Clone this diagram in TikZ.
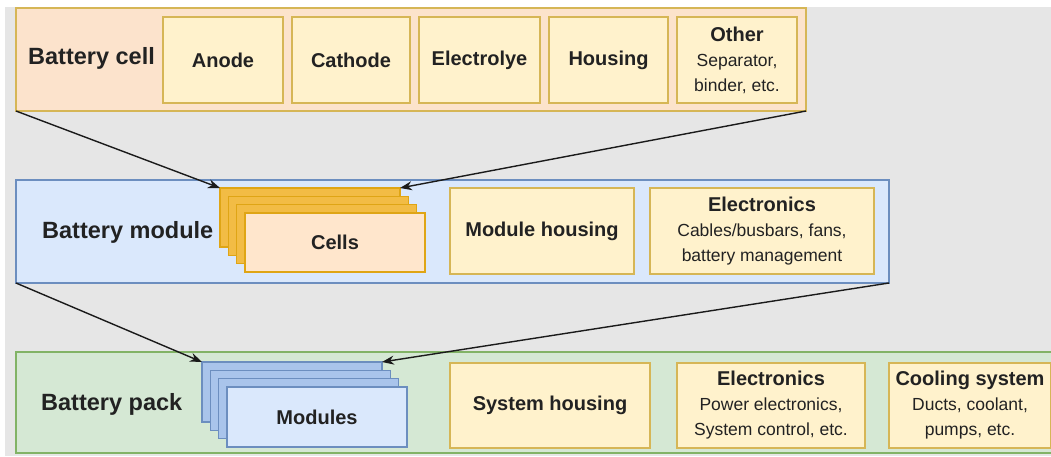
\documentclass[tikz,border=0pt]{standalone}
\usepackage{fontspec}
\setmainfont{Liberation Sans}
\usetikzlibrary{arrows.meta}
\definecolor{bggray}{HTML}{E6E6E6}
\definecolor{cellfill}{HTML}{FCE3CC}
\definecolor{golddraw}{HTML}{D6B656}
\definecolor{itemfill}{HTML}{FFF2CC}
\definecolor{modfill}{HTML}{DAE8FC}
\definecolor{moddraw}{HTML}{6C8EBF}
\definecolor{packfill}{HTML}{D5E8D4}
\definecolor{packdraw}{HTML}{82B366}
\definecolor{celllayer}{HTML}{F2BC45}
\definecolor{celldraw}{HTML}{D79B00}
\definecolor{frontcell}{HTML}{FFE6CC}
\definecolor{modlayer}{HTML}{A9C4EB}
\definecolor{txt}{HTML}{222222}
\definecolor{arr}{HTML}{1A1A1A}
\begin{document}
\begin{tikzpicture}[x=1pt,y=-1pt,
  box/.style={rectangle, anchor=north west, inner sep=0pt, outer sep=0pt, line width=1.2pt, text=txt, align=center},
  container/.style={box},
  item/.style={box, fill=itemfill, draw=golddraw, font=\fontsize{17.5}{25}\selectfont},
  celllay/.style={box, fill=celllayer, draw=celldraw!70!celllayer, minimum width=180pt, minimum height=59pt},
  modlay/.style={box, fill=modlayer, draw=moddraw, minimum width=180pt, minimum height=60pt},
  lvl/.style={anchor=west, inner sep=0pt, text=txt, font=\fontsize{23.5}{28}\selectfont\bfseries},
  conn/.style={draw=arr, line width=1.4pt, -{Stealth[length=12pt,width=9pt]}}
]
\useasboundingbox (0,0) rectangle (1051,456);
\clip (0,0) rectangle (1051,456);
\fill[bggray] (5,7) rectangle (1051,456);

% containers
\node[container, fill=cellfill, draw=golddraw, minimum width=790pt, minimum height=103pt] (cell) at (16,8) {};
\node[container, fill=modfill, draw=moddraw, minimum width=873pt, minimum height=103pt] (module) at (16,180) {};
\node[container, fill=packfill, draw=packdraw, minimum width=1045pt, minimum height=101pt] (pack) at (16,352) {};

% level labels
\node[lvl] (lcell) at (28,58) {Battery cell};
\node[lvl] (lmod) at (42,232) {Battery module};
\node[lvl] (lpack) at (41,404) {Battery pack};

% battery cell items
\newcommand{\ttl}[1]{{\fontsize{20}{25}\selectfont\bfseries #1}}
\node[item, minimum width=120pt, minimum height=86pt] (anode) at (163,17) {\ttl{Anode}};
\node[item, minimum width=118pt, minimum height=86pt] (cathode) at (292,17) {\ttl{Cathode}};
\node[item, minimum width=121pt, minimum height=86pt] (electrolyte) at (419,17) {\ttl{Electrolye}};
\node[item, minimum width=119pt, minimum height=86pt] (housing) at (549,17) {\ttl{Housing}};
\node[item, minimum width=120pt, minimum height=86pt] (other) at (677,17) {\ttl{Other}\\Separator,\\binder, etc.};

% cells stack
\node[celllay] (cl0) at (220,188) {};
\node[celllay] (cl1) at (228.3,196.3) {};
\node[celllay] (cl2) at (236.6,204.6) {};
\node[box, fill=frontcell, draw=celldraw!70!celllayer, minimum width=180pt, minimum height=59pt] (cells) at (245,213) {\ttl{Cells}};

% module items
\node[item, minimum width=184pt, minimum height=86pt] (modhousing) at (450,188) {\ttl{Module housing}};
\node[item, minimum width=224pt, minimum height=86pt] (modelec) at (650,188) {\ttl{Electronics}\\Cables/busbars, fans,\\battery management};

% modules stack
\node[modlay] (ml0) at (202,362) {};
\node[modlay] (ml1) at (210.3,370.3) {};
\node[modlay] (ml2) at (218.6,378.6) {};
\node[box, fill=modfill, draw=moddraw, minimum width=180pt, minimum height=60pt] (modules) at (227,387) {\ttl{Modules}};

% pack items
\node[item, minimum width=200pt, minimum height=85pt] (syshousing) at (450,363) {\ttl{System housing}};
\node[item, minimum width=188pt, minimum height=85pt] (packelec) at (677,363) {\ttl{Electronics}\\Power electronics,\\System control, etc.};
\node[item, minimum width=162pt, minimum height=85pt] (cooling) at (889,363) {\ttl{Cooling system}\\Ducts, coolant,\\pumps, etc.};

% connectors
\draw[conn] (cell.south west) -- (cl0.north west);
\draw[conn] (cell.south east) -- (cl0.north east);
\draw[conn] (module.south west) -- (ml0.north west);
\draw[conn] (module.south east) -- (ml0.north east);
\end{tikzpicture}
\end{document}
